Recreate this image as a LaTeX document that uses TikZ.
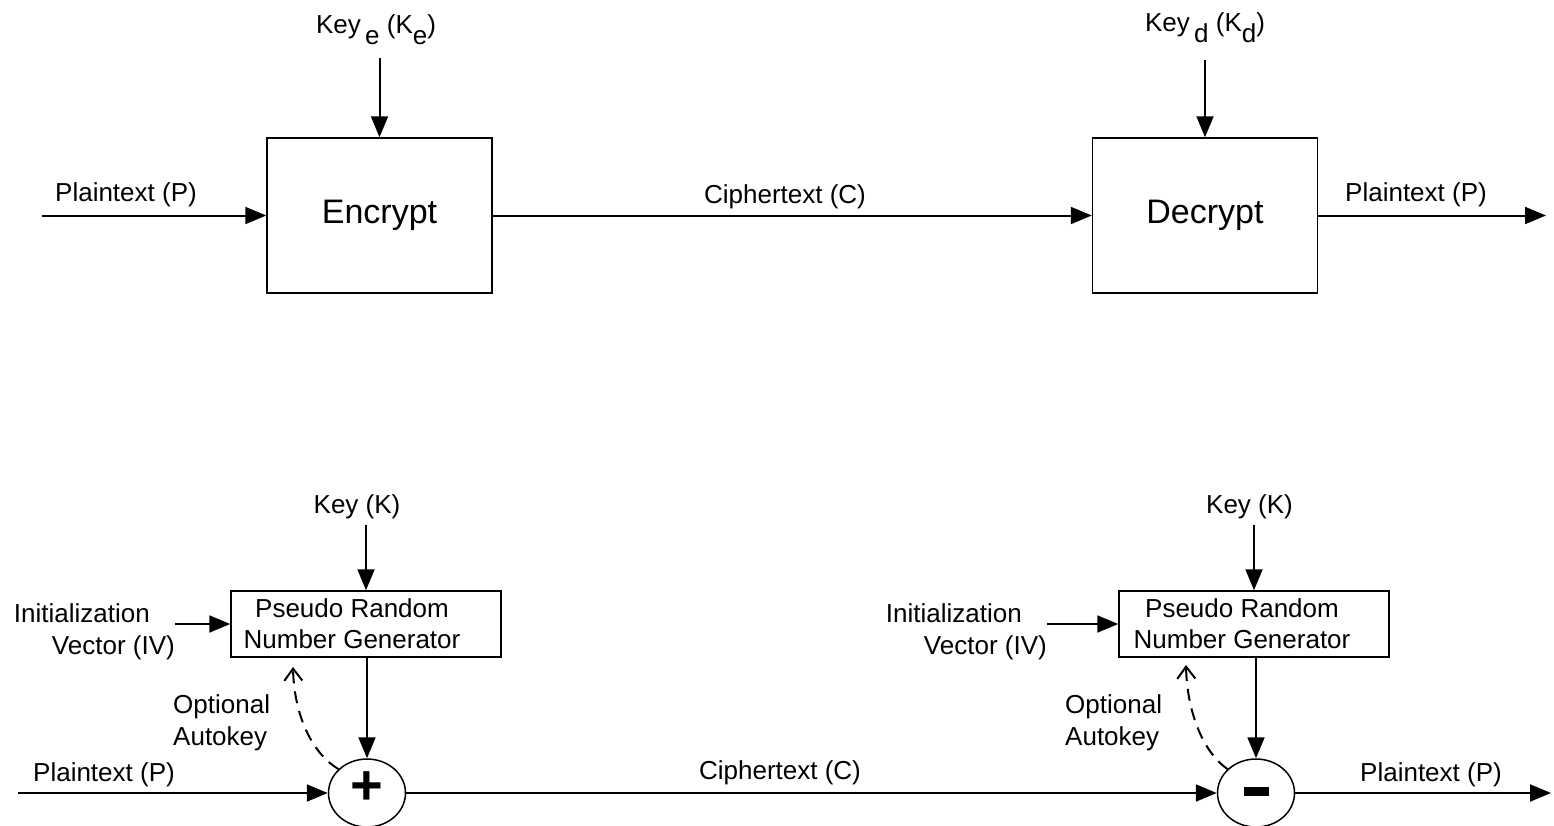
\documentclass[tikz,border=0pt]{standalone}
\usepackage{fontspec}
\setmainfont{Liberation Sans}
\usetikzlibrary{arrows.meta,shapes.geometric}
\newcommand{\lowsub}[1]{\raisebox{-0.42em}{#1}}
\begin{document}
\begin{tikzpicture}[x=1pt,y=-1pt,
  every node/.style={font=\fontsize{26}{31}\selectfont, inner sep=0pt},
  blk/.style={draw, line width=1.5pt, minimum width=225pt, minimum height=155pt,
              font=\fontsize{34}{40}\selectfont},
  prng/.style={draw, line width=1.5pt, minimum width=270pt, minimum height=66pt, align=center},
  mix/.style={draw, ellipse, line width=1.5pt, minimum width=77pt, minimum height=68pt},
  flow/.style={line width=2pt, -{Triangle[length=21pt,width=17pt]}},
  plainline/.style={line width=2pt},
  feedback/.style={line width=2pt, dash pattern=on 12pt off 8pt,
                   -{Straight Barb[length=12pt,width=18pt,line width=2pt]}},
  twoline/.style={align=left, font=\fontsize{26}{32}\selectfont},
]
\useasboundingbox (0,0) rectangle (1554,825);

% ---------- block cipher ----------
\node[blk] (enc) at (379.5,215.5) {Encrypt};
\node[blk] (dec) at (1205,215.5) {Decrypt};

\node (ke) at (376,30) {Key\,\lowsub{e} (K\lowsub{e})};
\node (kd) at (1205,28) {Key\,\lowsub{d} (K\lowsub{d})};
\coordinate (ke-a) at (379.5,58);
\coordinate (kd-a) at (1205,60);
\draw[flow] (ke-a) -- (enc.north);
\draw[flow] (kd-a) -- (dec.north);

\coordinate (pin) at (42,215.5);
\coordinate (pout) at (1546,215.5);
\draw[flow] (pin) -- (enc.west);
\draw[flow] (enc.east) -- (dec.west);
\draw[flow] (dec.east) -- (pout);

\node (tp1) at (126,195) {Plaintext (P)};
\node (tc1) at (785,197) {Ciphertext (C)};
\node (tp2) at (1416,195) {Plaintext (P)};

% ---------- stream cipher ----------
\node[prng] (g1) at (366,624) {Pseudo Random\hspace*{28pt}\\Number Generator\hspace*{28pt}};
\node[prng] (g2) at (1254,624) {Pseudo Random\hspace*{24pt}\\Number Generator\hspace*{24pt}};

\node[mix] (m1) at (367,793) {};
\node[mix] (m2) at (1256,793) {};
\node[font=\fontsize{56}{60}\selectfont\bfseries] (plus) at (367,788) {+};
\node (minus) at (1256,791.5) {\rule{25pt}{9pt}};

\node (k1) at (357,507) {Key (K)};
\node (k2) at (1249.5,507) {Key (K)};
\coordinate (k1-a) at (366,525);
\coordinate (k2-a) at (1254,525);
\draw[flow] (k1-a) -- (g1.north);
\draw[flow] (k2-a) -- (g2.north);

\node[twoline, align=right, anchor=east] (iv1) at (175,631.5) {Initialization\hspace*{25pt}\\Vector (IV)};
\node[twoline, align=right, anchor=east] (iv2) at (1047,631.5) {Initialization\hspace*{25pt}\\Vector (IV)};
\draw[flow] (iv1.east |- g1.west) -- (g1.west);
\draw[flow] (iv2.east |- g2.west) -- (g2.west);

\draw[flow] (g1.south -| m1.north) -- (m1.north);
\draw[flow] (g2.south -| m2.north) -- (m2.north);

\node[twoline, anchor=west] (ak1) at (173,723) {Optional\\Autokey};
\node[twoline, anchor=west] (ak2) at (1065,723) {Optional\\Autokey};

\coordinate (fb1) at (293,667);
\coordinate (fb2) at (1186,665);
\draw[feedback] (m1.140) .. controls (310,752) and (294,712) .. (fb1);
\draw[feedback] (m2.140) .. controls (1203,752) and (1187,712) .. (fb2);

\coordinate (sin) at (18,793);
\coordinate (sout) at (1551,793);
\draw[flow] (sin) -- (m1.west);
\draw[flow] (m1.east) -- (m2.west);
\draw[flow] (m2.east) -- (sout);

\node (bp1) at (104,775) {Plaintext (P)};
\node (bc1) at (780,773) {Ciphertext (C)};
\node (bp2) at (1431,775) {Plaintext (P)};
\end{tikzpicture}
\end{document}
